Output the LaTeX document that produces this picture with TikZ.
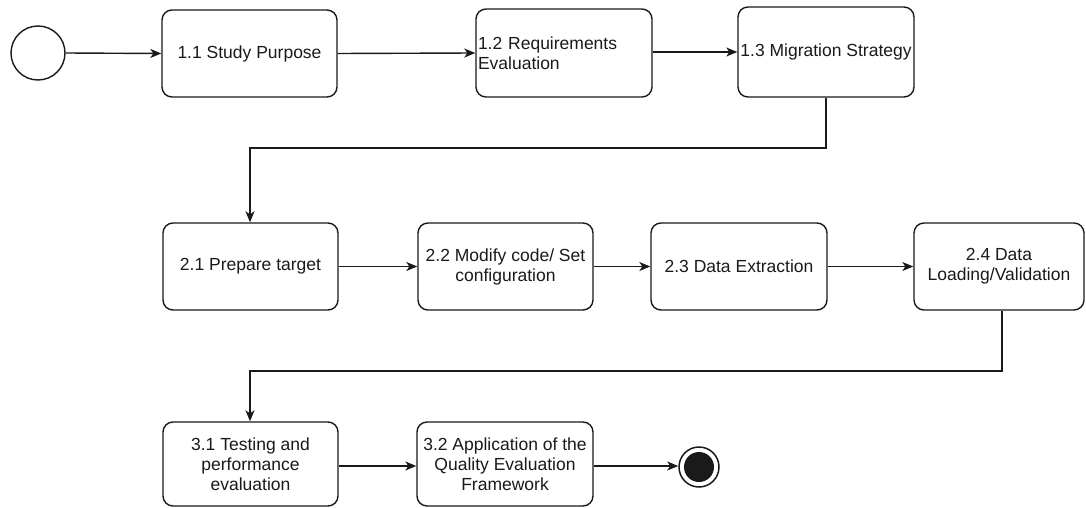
\documentclass[tikz,border=0pt]{standalone}
\usepackage{fontspec}
\setmainfont{Liberation Sans}
\usetikzlibrary{arrows.meta}
\definecolor{ink}{HTML}{1A1A1A}
\tikzset{
  flowline/.style={line width=1.4pt, draw=ink, -{Stealth[length=11pt,width=9pt,inset=3pt]}},
  stepbox/.style={draw=ink, line width=1.4pt, rounded corners=10pt, fill=white,
    minimum width=175pt, minimum height=87pt, inner sep=0pt, align=center,
    text=ink, font=\fontsize{17.5}{20}\selectfont},
}
\begin{document}
\begin{tikzpicture}[x=1pt, y=-1pt]
\useasboundingbox[fill=white] (0,0) rectangle (1086,508);

% start state
\node[draw=ink, line width=1.4pt, circle, minimum size=54pt, inner sep=0pt] (start) at (38,53) {};

% phase 1
\node[stepbox] (s11) at (249.5,53.5) {1.1 Study Purpose};
\node[stepbox, minimum width=176pt, minimum height=88pt, text width=172pt, inner xsep=2pt, align=left] (s12) at (564,53) {1.2 Requirements\\Evaluation};
\node[stepbox, minimum width=176pt, minimum height=90pt] (s13) at (826,52) {1.3 Migration Strategy};

% phase 2
\node[stepbox] (s21) at (250.5,266.5) {2.1 Prepare target};
\node[stepbox] (s22) at (505.5,266.5) {2.2 Modify code/ Set\\configuration};
\node[stepbox, minimum width=176pt] (s23) at (739,266.5) {2.3 Data Extraction};
\node[stepbox, minimum width=170pt] (s24) at (999,266.5) {2.4 Data\\Loading/Validation};

% phase 3
\node[stepbox, minimum height=84pt] (s31) at (250.5,464) {3.1 Testing and\\performance\\evaluation};
\node[stepbox, minimum width=176pt, minimum height=84pt] (s32) at (505,464) {3.2 Application of the\\Quality Evaluation\\Framework};

% end state
\node[draw=ink, line width=1.5pt, circle, minimum size=40pt, inner sep=0pt] (finish) at (699,467) {};
\fill[ink] (finish.center) circle[radius=15pt];

% routing points
\coordinate (k1) at (826,148);
\coordinate (k2) at (250,148);
\coordinate (k3) at (1002,371);
\coordinate (k4) at (250,371);

% connectors
\draw[flowline] (start.east) -- (s11.west);
\draw[flowline] (s11.east) -- (s12.west);
\draw[flowline] (s12.east |- 0,52) -- (s13.west |- 0,52);
\draw[flowline] (s13.south) -- (k1) -- (k2) -- (s21.north -| k2);
\draw[flowline] (s21.east) -- (s22.west);
\draw[flowline] (s22.east) -- (s23.west);
\draw[flowline] (s23.east) -- (s24.west);
\draw[flowline] (s24.south -| k3) -- (k3) -- (k4) -- (s31.north -| k4);
\draw[flowline] (s31.east |- 0,466) -- (s32.west |- 0,466);
\draw[flowline] (s32.east |- 0,466) -- (finish.west |- 0,466);
\end{tikzpicture}
\end{document}
